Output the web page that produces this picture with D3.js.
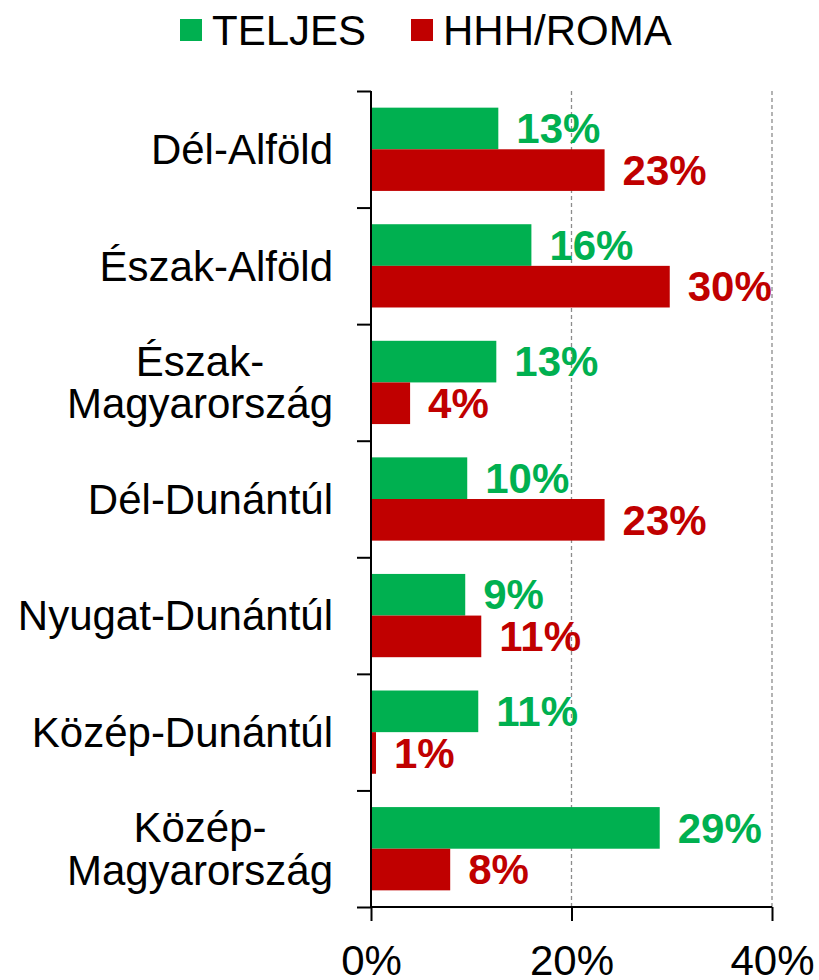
<!DOCTYPE html>
<html>
<head>
<meta charset="utf-8">
<script src="https://cdn.jsdelivr.net/npm/d3@7"></script>
<style>
  body { margin: 0; background: #fff; }
  text { font-family: Arial, "Liberation Sans", sans-serif; }
</style>
</head>
<body>
<div id="main-content"></div>
<script>
// data
const regions = [
  ["Dél-Alföld"],
  ["Észak-Alföld"],
  ["Észak-", "Magyarország"],
  ["Dél-Dunántúl"],
  ["Nyugat-Dunántúl"],
  ["Közép-Dunántúl"],
  ["Közép-", "Magyarország"]
];
const teljes = [12.7, 16.0, 12.5, 9.6, 9.4, 10.7, 28.8];
const hhhRoma = [23.3, 29.8, 3.9, 23.3, 11.0, 0.5, 7.9];
const seriesNames = ["TELJES", "HHH/ROMA"];
const seriesColors = ["#00B050", "#C00000"];
const xTicks = [0, 20, 40];

const width = 819, height = 980;
const mLeft = 371, mRight = 772, mTop = 91, mBottom = 907;

const svg = d3.select("#main-content")
  .append("svg")
  .attr("width", width)
  .attr("height", height);

const keys = regions.map((r, i) => i);
const data = keys.map(i => ({ i: i, label: regions[i], vals: [teljes[i], hhhRoma[i]] }));

const x = d3.scaleLinear().domain([0, 40]).range([mLeft, mRight]);
const y0 = d3.scaleBand().domain(keys).range([mTop, mBottom]);
const y1 = d3.scaleBand().domain([0, 1]).range([0, y0.bandwidth()]).paddingOuter(0.4);

// gridlines
svg.append("g")
  .selectAll("line")
  .data(xTicks.filter(t => t > 0))
  .join("line")
  .attr("x1", d => x(d)).attr("x2", d => x(d))
  .attr("y1", mTop).attr("y2", mBottom)
  .attr("stroke", "#8c8c8c")
  .attr("stroke-width", 1.3)
  .attr("stroke-dasharray", "4,3");

// bars
const groups = svg.append("g")
  .selectAll("g")
  .data(data)
  .join("g")
  .attr("transform", d => `translate(0,${y0(d.i)})`);

groups.selectAll("rect")
  .data(d => d.vals.map((v, s) => ({ v: v, s: s })))
  .join("rect")
  .attr("x", x(0))
  .attr("y", d => y1(d.s))
  .attr("width", d => x(d.v) - x(0))
  .attr("height", y1.bandwidth())
  .attr("fill", d => seriesColors[d.s]);

groups.selectAll("text.val")
  .data(d => d.vals.map((v, s) => ({ v: v, s: s })))
  .join("text")
  .attr("class", "val")
  .attr("x", d => x(d.v) + 18)
  .attr("y", d => y1(d.s) + y1.bandwidth() / 2)
  .attr("dy", "0.35em")
  .attr("font-size", 42)
  .attr("font-weight", "bold")
  .attr("fill", d => seriesColors[d.s])
  .text(d => Math.round(d.v) + "%");

// y axis
const yAxis = svg.append("g")
  .attr("transform", `translate(${mLeft},0)`)
  .call(d3.axisLeft(d3.scaleLinear().domain([0, 7]).range([mTop, mBottom]))
    .ticks(7).tickSize(14).tickFormat(""));
yAxis.select(".domain").attr("stroke", "#000").attr("stroke-width", 2).attr("d", `M0,${mTop}V${mBottom}`);
yAxis.selectAll(".tick line").attr("stroke", "#000").attr("stroke-width", 2);

// category labels
const labelRight = 333;
groups.each(function(d) {
  const g = d3.select(this);
  const cy = y0.bandwidth() / 2;
  const n = d.label.length;
  const t = g.append("text")
    .attr("font-size", 42)
    .attr("fill", "#000")
    .attr("text-anchor", "middle");
  const tsp = t.selectAll("tspan")
    .data(d.label)
    .join("tspan")
    .attr("y", (l, k) => cy + (k - (n - 1) / 2) * 42.5)
    .attr("dy", "0.35em")
    .text(l => l);
  let maxW = 0;
  tsp.each(function() { maxW = Math.max(maxW, this.getComputedTextLength()); });
  tsp.attr("x", labelRight - maxW / 2);
});

// x axis
const xAxis = svg.append("g")
  .attr("transform", `translate(0,${mBottom})`)
  .call(d3.axisBottom(x).tickValues(xTicks).tickSize(14).tickPadding(0).tickFormat(d => d + "%"));
xAxis.select(".domain").attr("stroke", "#000").attr("stroke-width", 2).attr("d", `M${mLeft},0H${mRight}`);
xAxis.selectAll(".tick line").attr("stroke", "#000").attr("stroke-width", 2);
xAxis.selectAll(".tick text")
  .attr("font-size", 42)
  .attr("font-family", "Arial, 'Liberation Sans', sans-serif")
  .attr("fill", "#000")
  .attr("dy", null)
  .attr("y", 68);

// legend
const legendX = [180, 411];
const legend = svg.append("g")
  .selectAll("g")
  .data(seriesNames)
  .join("g")
  .attr("transform", (d, i) => `translate(${legendX[i]},19)`);
legend.append("rect")
  .attr("width", 22).attr("height", 22)
  .attr("fill", (d, i) => seriesColors[i]);
legend.append("text")
  .attr("x", 32)
  .attr("y", 26)
  .attr("font-size", 42)
  .attr("fill", "#000")
  .text(d => d);
</script>
</body>
</html>
